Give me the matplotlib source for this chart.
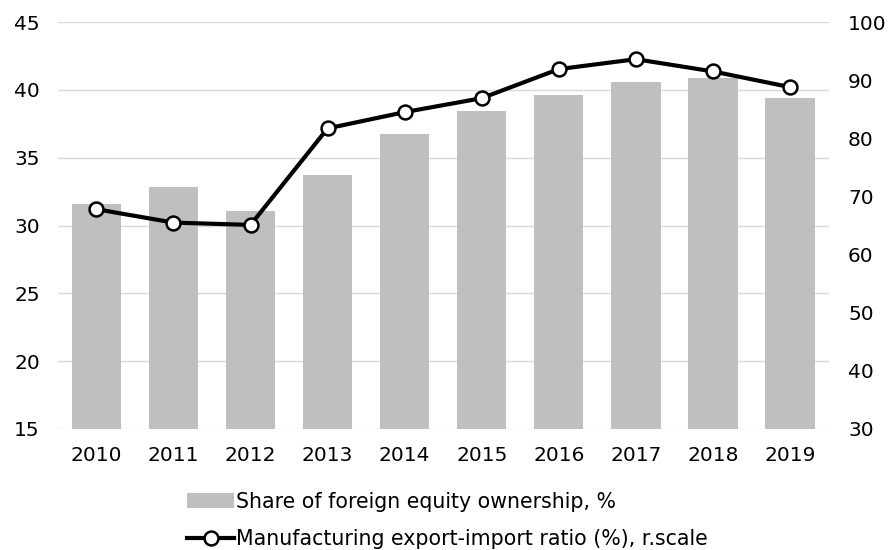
import matplotlib
matplotlib.use("Agg")
import matplotlib.pyplot as plt
from matplotlib.lines import Line2D
from matplotlib.patches import Patch

plt.rcParams['font.family'] = ['DejaVu Sans']

years = ['2010', '2011', '2012', '2013', '2014', '2015', '2016', '2017', '2018', '2019']
foreign_share = [31.6, 32.85, 31.05, 33.75, 36.75, 38.45, 39.65, 40.6, 40.9, 39.4]
export_import = [67.8, 65.5, 65.1, 81.7, 84.5, 86.9, 91.9, 93.6, 91.5, 88.8]

bar_label = 'Share of foreign equity ownership, %'
line_label = 'Manufacturing export-import ratio (%), r.scale'

fig = plt.figure(figsize=(8.9, 5.5), dpi=100)
ax = fig.add_axes([0.065, 0.22, 0.866, 0.74])
x = range(len(years))

ax.bar(x, foreign_share, width=0.64, color='#bfbfbf', zorder=2)
ax.set_ylim(15, 45)
ax.set_yticks(range(15, 46, 5))
ax.set_xlim(-0.5, len(years) - 0.5)
ax.set_xticks(list(x))
ax.set_xticklabels(years)
ax.grid(axis='y', color='#d9d9d9', linewidth=1, zorder=0)
ax.set_axisbelow(True)

ax2 = ax.twinx()
ax2.plot(x, export_import, color='black', linewidth=3, marker='o', markersize=10,
         markerfacecolor='white', markeredgecolor='black', markeredgewidth=1.8, zorder=3)
ax2.set_ylim(30, 100)
ax2.set_yticks(range(30, 101, 10))

for a in (ax, ax2):
    for s in a.spines.values():
        s.set_visible(False)
    a.tick_params(length=0, labelsize=14.5, colors='#000000')
ax.tick_params(axis='y', pad=13)
ax.tick_params(axis='x', pad=12)
ax2.tick_params(axis='y', pad=14)

handles = [Patch(facecolor='#bfbfbf', edgecolor='none'),
           Line2D([], [], color='black', linewidth=3, marker='o', markersize=10,
                  markerfacecolor='white', markeredgecolor='black', markeredgewidth=1.8)]
fig.legend(handles, [bar_label, line_label], loc='upper left',
           bbox_to_anchor=(0.21, 0.106), frameon=False, fontsize=14.8,
           handlelength=2.3, handletextpad=0.1, labelspacing=0.85,
           borderpad=0, borderaxespad=0)

fig.savefig('out.png', dpi=100)
